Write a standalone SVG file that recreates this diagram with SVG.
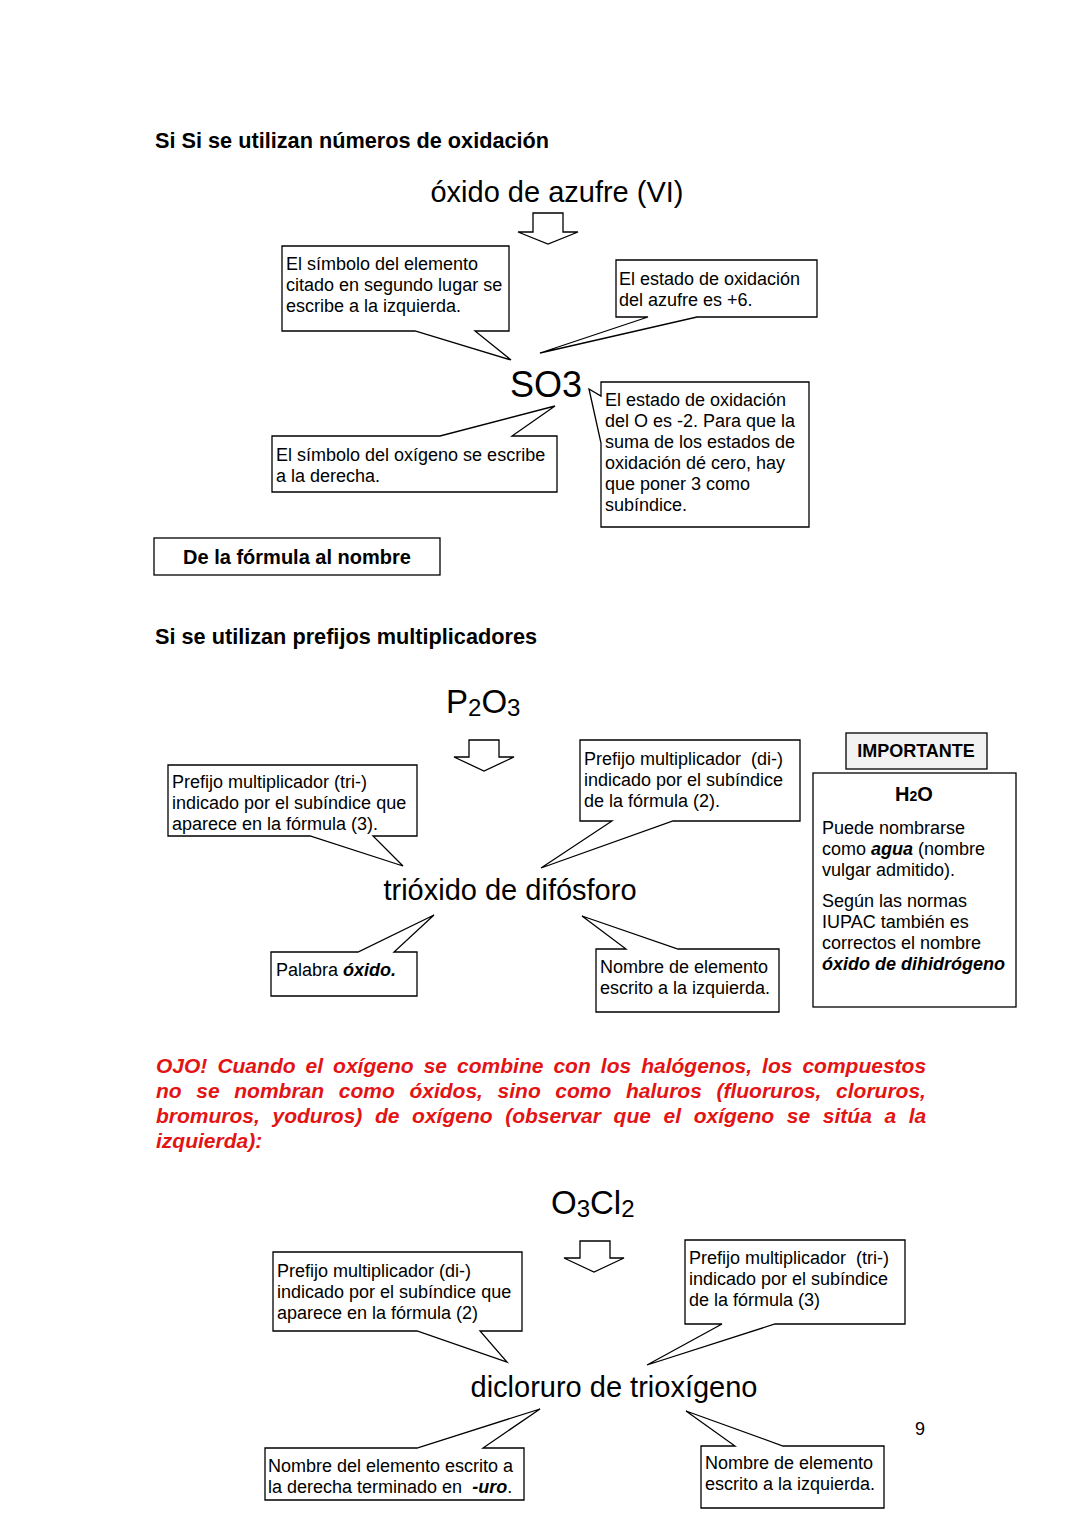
<svg xmlns="http://www.w3.org/2000/svg" width="1080" height="1527" viewBox="0 0 1080 1527">
<style>
text{font-family:"Liberation Sans",Arial,sans-serif;fill:#000}
.h{font-size:21.7px;font-weight:bold}
.c{font-size:29px}
.b{font-size:18px}
.co{fill:#fff;stroke:#000;stroke-width:1.3;stroke-linejoin:miter}
.ar{fill:#fff;stroke:#000;stroke-width:1.3}
.bi{font-weight:bold;font-style:italic}
.red{font-size:21px;font-weight:bold;font-style:italic;fill:#e21414}
</style>
<rect width="1080" height="1527" fill="#fff"/>

<text class="h" x="155" y="148">Si Si se utilizan números de oxidación</text>
<text id="t-azufre" class="c" x="557" y="202" text-anchor="middle">óxido de azufre (VI)</text>

<g id="n-tl1">
<path class="co" d="M282,246 H509 V331 H475 L511,360 L415,331 H282 Z"/>
<text class="b" x="286" y="270">El símbolo del elemento</text>
<text class="b" x="286" y="291">citado en segundo lugar se</text>
<text class="b" x="286" y="312">escribe a la izquierda.</text>
</g>
<g id="n-tr1">
<path class="co" d="M616,260 H817 V317 H697 L540,353 L648,317 H616 Z"/>
<text class="b" x="619" y="285">El estado de oxidación</text>
<text class="b" x="619" y="306">del azufre es +6.</text>
</g>
<text id="t-so3" x="510" y="397" style="font-size:36px">SO3</text>
<g id="n-ml1">
<path class="co" d="M272,436 H440 L555,406 L512,436 H557 V492 H272 Z"/>
<text class="b" x="276" y="461">El símbolo del oxígeno se escribe</text>
<text class="b" x="276" y="482">a la derecha.</text>
</g>
<g id="n-mr1">
<path class="co" d="M601,382 H809 V527 H601 V443 L589,389 L601,396 Z"/>
<text class="b" x="605" y="406">El estado de oxidación</text>
<text class="b" x="605" y="427">del O es -2. Para que la</text>
<text class="b" x="605" y="448">suma de los estados de</text>
<text class="b" x="605" y="469">oxidación dé cero, hay</text>
<text class="b" x="605" y="490">que poner 3 como</text>
<text class="b" x="605" y="511">subíndice.</text>
</g>

<g id="n-formula">
<rect x="154" y="538" width="286" height="37" fill="#fff" stroke="#000" stroke-width="1.3"/>
<text x="297" y="564" text-anchor="middle" style="font-size:20px;font-weight:bold">De la fórmula al nombre</text>
</g>
<text class="h" x="155" y="644">Si se utilizan prefijos multiplicadores</text>

<text id="t-p2o3" x="446" y="713" style="font-size:33px">P<tspan style="font-size:24px" dy="3">2</tspan><tspan dy="-3">O</tspan><tspan style="font-size:24px" dy="3">3</tspan></text>

<g id="n-tl2">
<path class="co" d="M168,765 H417 V836 H373 L403,866 L310,836 H168 Z"/>
<text class="b" x="172" y="788">Prefijo multiplicador (tri-)</text>
<text class="b" x="172" y="809">indicado por el subíndice que</text>
<text class="b" x="172" y="830">aparece en la fórmula (3).</text>
</g>
<g id="n-tr2">
<path class="co" d="M580,740 H800 V821 H673 L541,868 L612,821 H580 Z"/>
<text class="b" x="584" y="765" xml:space="preserve">Prefijo multiplicador  (di-)</text>
<text class="b" x="584" y="786">indicado por el subíndice</text>
<text class="b" x="584" y="807">de la fórmula (2).</text>
</g>
<text id="t-trioxido" class="c" x="510" y="900" text-anchor="middle">trióxido de difósforo</text>
<g id="n-bl2">
<path class="co" d="M271,952 H358 L434,915 L394,952 H417 V996 H271 Z"/>
<text class="b" x="276" y="976">Palabra <tspan class="bi">óxido.</tspan></text>
</g>
<g id="n-br2">
<path class="co" d="M596,949 H626 L582,916 L678,949 H779 V1012 H596 Z"/>
<text class="b" x="600" y="973">Nombre de elemento</text>
<text class="b" x="600" y="994">escrito a la izquierda.</text>
</g>

<g id="n-importante">
<rect x="846" y="733" width="141" height="36" fill="#f2f2f2" stroke="#000" stroke-width="1.3"/>
<text x="916" y="757" text-anchor="middle" style="font-size:18px;font-weight:bold">IMPORTANTE</text>
</g>
<g id="n-h2o">
<rect x="813" y="773" width="203" height="234" fill="#fff" stroke="#000" stroke-width="1.3"/>
<text x="914" y="801" text-anchor="middle" style="font-size:20px;font-weight:bold">H<tspan style="font-size:14px">2</tspan>O</text>
<text class="b" x="822" y="834">Puede nombrarse</text>
<text class="b" x="822" y="855">como <tspan class="bi">agua</tspan> (nombre</text>
<text class="b" x="822" y="876">vulgar admitido).</text>
<text class="b" x="822" y="907">Según las normas</text>
<text class="b" x="822" y="928">IUPAC también es</text>
<text class="b" x="822" y="949">correctos el nombre</text>
<text class="b bi" x="822" y="970">óxido de dihidrógeno</text>
</g>

<g id="n-ojo">
<text class="red" x="156" y="1073" word-spacing="4.2">OJO! Cuando el oxígeno se combine con los halógenos, los compuestos</text>
<text class="red" x="156" y="1098" word-spacing="8.8">no se nombran como óxidos, sino como haluros (fluoruros, cloruros,</text>
<text class="red" x="156" y="1123" word-spacing="6.8">bromuros, yoduros) de oxígeno (observar que el oxígeno se sitúa a la</text>
<text class="red" x="156" y="1148">izquierda):</text>
</g>

<text id="t-o3cl2" x="551" y="1214" style="font-size:33px">O<tspan style="font-size:24px" dy="3">3</tspan><tspan dy="-3">Cl</tspan><tspan style="font-size:24px" dy="3">2</tspan></text>

<g id="n-tl3">
<path class="co" d="M273,1252 H522 V1331 H480 L507,1362 L417,1331 H273 Z"/>
<text class="b" x="277" y="1277">Prefijo multiplicador (di-)</text>
<text class="b" x="277" y="1298">indicado por el subíndice que</text>
<text class="b" x="277" y="1319">aparece en la fórmula (2)</text>
</g>
<g id="n-tr3">
<path class="co" d="M685,1240 H905 V1324 H775 L647,1365 L722,1324 H685 Z"/>
<text class="b" x="689" y="1264" xml:space="preserve">Prefijo multiplicador  (tri-)</text>
<text class="b" x="689" y="1285">indicado por el subíndice</text>
<text class="b" x="689" y="1306">de la fórmula (3)</text>
</g>
<text id="t-dicloruro" class="c" x="614" y="1397" text-anchor="middle">dicloruro de trioxígeno</text>
<g id="n-bl3">
<path class="co" d="M265,1448 H417 L540,1409 L483,1448 H524 V1500 H265 Z"/>
<text class="b" x="268" y="1472">Nombre del elemento escrito a</text>
<text class="b" x="268" y="1493" xml:space="preserve">la derecha terminado en  <tspan class="bi">-uro</tspan>.</text>
</g>
<g id="n-br3">
<path class="co" d="M701,1446 H735 L686,1411 L783,1446 H884 V1508 H701 Z"/>
<text class="b" x="705" y="1469">Nombre de elemento</text>
<text class="b" x="705" y="1490">escrito a la izquierda.</text>
</g>

<text x="920" y="1435" text-anchor="middle" style="font-size:18px">9</text>

<g id="connectors">
<path class="ar" d="M533,213 H563 V232 H578 L548,244 L518,232 H533 Z"/>
<path class="ar" d="M469,740 H499 V757 H514 L484,771 L454,757 H469 Z"/>
<path class="ar" d="M580,1241 H610 V1258 H624 L594,1272 L564,1258 H580 Z"/>
</g>
</svg>
